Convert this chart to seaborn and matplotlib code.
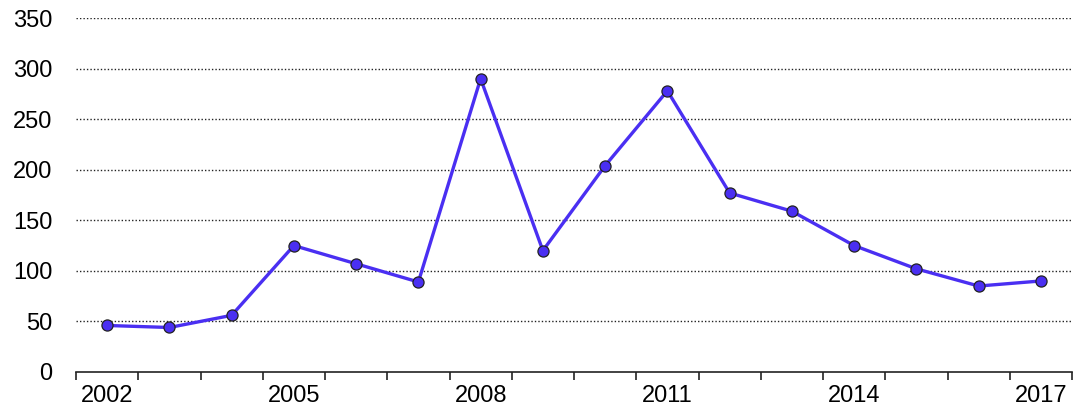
import matplotlib
matplotlib.use("Agg")
import matplotlib.pyplot as plt
import seaborn as sns
import numpy as np
import pandas as pd

years = list(range(2002, 2018))
values = [46, 44, 56, 125, 107, 89, 290, 120, 204, 278, 177, 159, 125, 102, 85, 90]
label_years = [2002, 2005, 2008, 2011, 2014, 2017]
y_ticks = [0, 50, 100, 150, 200, 250, 300, 350]

sns.set_theme(style="white")
plt.rcParams['font.family'] = ['Liberation Sans', 'DejaVu Sans']

df = pd.DataFrame({"year": years, "value": values})
color = "#4a2ff2"

fig = plt.figure(figsize=(10.77, 4.09), dpi=100)
ax = fig.add_axes([76/1077, 1-372/409, (1072-76)/1077, (372-18)/409])

for v in y_ticks[1:]:
    ax.axhline(v, color="#222222", lw=1.0, ls=(0, (1, 1.5)), zorder=0)

sns.lineplot(data=df, x="year", y="value", ax=ax, color=color, lw=2.4,
             marker="o", markersize=8, markerfacecolor=color,
             markeredgecolor="#222222", markeredgewidth=0.9, zorder=3)

ax.set_xlim(years[0]-0.5, years[-1]+0.5)
ax.set_ylim(0, 350)
ax.set_xlabel("")
ax.set_ylabel("")
ax.set_yticks(y_ticks)
ax.set_yticklabels([str(v) for v in y_ticks])
ax.set_xticks(label_years)
ax.set_xticklabels([str(y) for y in label_years])
ax.set_xticks([y - 0.5 for y in years] + [years[-1] + 0.5], minor=True)
ax.tick_params(axis="x", which="major", length=0, pad=9, labelsize=17, colors="black")
ax.tick_params(axis="x", which="minor", length=6, width=1.2, color="#222222", bottom=True)
ax.tick_params(axis="y", length=0, pad=17, labelsize=17, colors="black")
for s in ["top", "right", "left"]:
    ax.spines[s].set_visible(False)
ax.spines["bottom"].set_color("#222222")
ax.spines["bottom"].set_linewidth(1.2)
ax.grid(False)

fig.savefig("out.png", dpi=100)
